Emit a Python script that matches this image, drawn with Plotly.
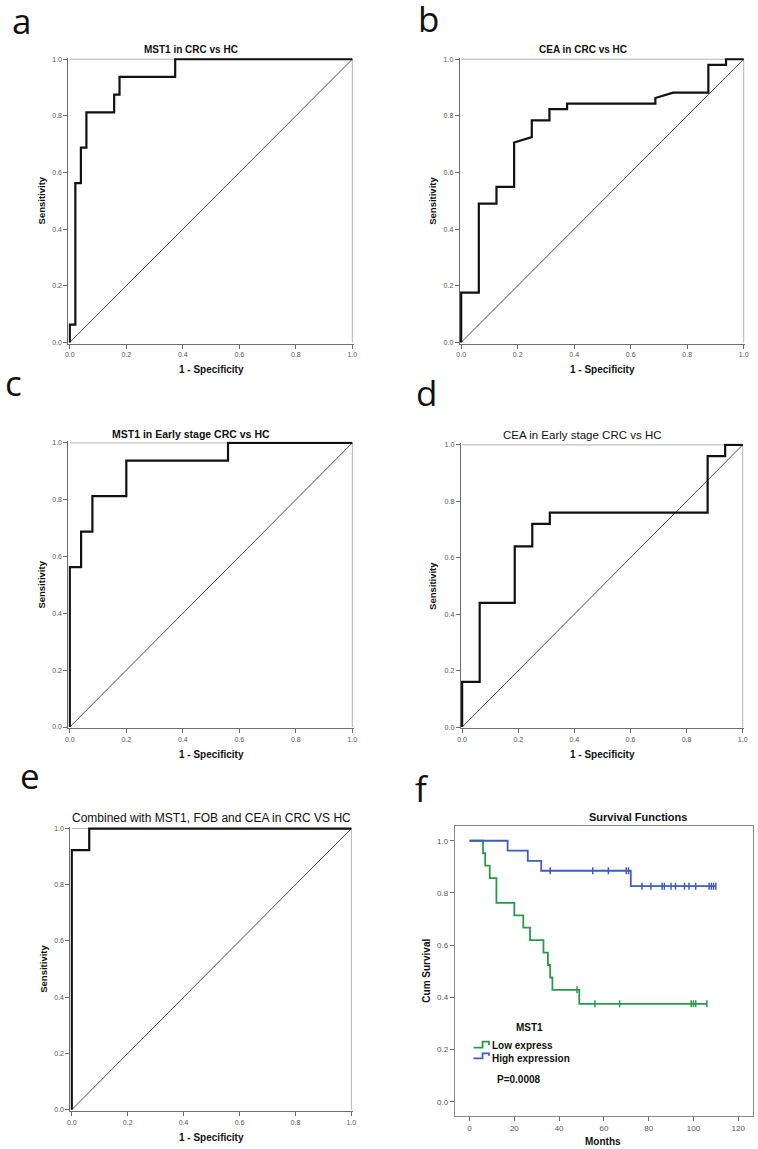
import numpy as np
import plotly.graph_objects as go

W, H = 758, 1149
FONT = "Liberation Sans, Arial, sans-serif"
LETTER_FONT = "Open Sans, Noto Sans, sans-serif"

# ---- ROC data (1 - specificity, sensitivity) ----
a_fpr = [0, 0, 0.0196, 0.0196, 0.0392, 0.0392, 0.0588, 0.0588, 0.157, 0.157, 0.176, 0.176, 0.373, 0.373, 1.0]
a_tpr = [0, 0.0625, 0.0625, 0.5625, 0.5625, 0.6875, 0.6875, 0.8125, 0.8125, 0.875, 0.875, 0.9375, 0.9375, 1.0, 1.0]

b_fpr = [0, 0, 0.0625, 0.0625, 0.125, 0.125, 0.1875, 0.1875, 0.25, 0.25, 0.3125, 0.3125, 0.375, 0.375,
         0.6875, 0.6875, 0.75, 0.875, 0.875, 0.9375, 0.9375, 1.0]
b_tpr = [0, 0.176, 0.176, 0.490, 0.490, 0.549, 0.549, 0.706, 0.725, 0.784, 0.784, 0.824, 0.824, 0.843,
         0.843, 0.863, 0.882, 0.882, 0.980, 0.980, 1.0, 1.0]

c_fpr = [0, 0, 0.04, 0.04, 0.08, 0.08, 0.2, 0.2, 0.56, 0.56, 1.0]
c_tpr = [0, 0.5625, 0.5625, 0.6875, 0.6875, 0.8125, 0.8125, 0.9375, 0.9375, 1.0, 1.0]

d_fpr = [0, 0, 0.0625, 0.0625, 0.1875, 0.1875, 0.25, 0.25, 0.3125, 0.3125, 0.875, 0.875, 0.9375, 0.9375, 1.0]
d_tpr = [0, 0.16, 0.16, 0.44, 0.44, 0.64, 0.64, 0.72, 0.72, 0.76, 0.76, 0.96, 0.96, 1.0, 1.0]

e_fpr = [0, 0, 0.0625, 0.0625, 1.0]
e_tpr = [0, 0.923, 0.923, 1.0, 1.0]

diag = [0, 1]
roc_ticks = [0, 0.2, 0.4, 0.6, 0.8, 1.0]

# ---- Kaplan-Meier data (months, cumulative survival) ----
low_t = [0, 6, 7, 9, 12, 20, 24, 27, 33, 35, 36, 37, 49, 106]
low_s = [1.0, 0.952, 0.905, 0.857, 0.762, 0.714, 0.667, 0.619, 0.571, 0.524, 0.476, 0.429, 0.375, 0.375]
low_cens = [48, 56, 67, 99, 100, 101, 106]

high_t = [0, 17, 26, 32, 72, 110]
high_s = [1.0, 0.962, 0.923, 0.885, 0.826, 0.826]
high_cens = [36, 55, 62, 70, 71, 77, 81, 86, 87, 90, 92, 96, 98, 101, 107, 108, 109, 110]

km_xticks = [0, 20, 40, 60, 80, 100, 120]
km_yticks = [0, 0.2, 0.4, 0.6, 0.8, 1.0]

GREEN = "#2b9a48"
BLUE = "#3f5dbd"


def fx(x):
    return x / W


def fy(y):
    return 1 - y / H


def step_value(times, surv, t):
    idx = np.searchsorted(np.array(times), t, side="right") - 1
    return float(np.array(surv)[idx])


# letter, title, fpr, tpr, box px (x0, y0, x1, y1), title (x, y, size, bold), ylabel x, xlabel y, letter (x, baseline)
ROC_PANELS = [
    ("a", "MST1 in CRC vs HC", a_fpr, a_tpr, (66, 56, 354, 343), (190, 48, 10, True), 39, 369, (7, 32)),
    ("b", "CEA in CRC vs HC", b_fpr, b_tpr, (461, 56, 749, 343), (585, 48, 10, True), 434, 369, (417, 30)),
    ("c", "MST1 in Early stage CRC vs HC", c_fpr, c_tpr, (66, 441, 354, 729), (190, 434, 10.5, True), 39, 755, (0, 395)),
    ("d", "CEA in Early stage CRC vs HC", d_fpr, d_tpr, (462, 443, 748, 729), (585, 435, 11.5, False), 434, 755, (415, 405)),
    ("e", "Combined with MST1, FOB and CEA in CRC VS HC", e_fpr, e_tpr, (68, 828, 353, 1113),
     (210, 819, 12, False), 40, 1139, (15, 790)),
]
KM_BOX = (456, 827, 757, 1118)

fig = go.Figure()
layout = dict(
    width=W, height=H,
    margin=dict(l=0, r=0, t=0, b=0),
    paper_bgcolor="white", plot_bgcolor="white",
    showlegend=False,
    font=dict(family=FONT, color="#222"),
)
annotations = []
shapes = []

tick_font = dict(family=FONT, size=7, color="#555")
axis_common = dict(showgrid=False, zeroline=False, showline=True, linecolor="#6e6e6e", linewidth=1,
                   ticks="outside", ticklen=4, tickcolor="#6e6e6e", tickwidth=1, tickfont=tick_font,
                   fixedrange=True)

for i, (letter, title, fpr, tpr, box, tpos, ylx, xly, lpos) in enumerate(ROC_PANELS, start=1):
    xa, ya = f"x{i}", f"y{i}"
    x0, y0, x1, y1 = box
    layout[f"xaxis{i}"] = dict(axis_common, domain=[fx(x0), fx(x1)], range=[-0.005, 1.005],
                               tickvals=roc_ticks, ticktext=[f"{v:.1f}" for v in roc_ticks], anchor=ya)
    layout[f"yaxis{i}"] = dict(axis_common, domain=[fy(y1), fy(y0)], range=[-0.005, 1.005],
                               tickvals=roc_ticks, ticktext=[f"{v:.1f}" for v in roc_ticks], anchor=xa)
    # light frame on top and right
    shapes.append(dict(type="line", xref=xa, yref=ya, x0=0, x1=1, y0=1, y1=1,
                       line=dict(color="#b5b5b5", width=1), layer="below"))
    shapes.append(dict(type="line", xref=xa, yref=ya, x0=1, x1=1, y0=0, y1=1,
                       line=dict(color="#b5b5b5", width=1), layer="below"))
    fig.add_trace(go.Scatter(x=diag, y=diag, mode="lines", xaxis=xa, yaxis=ya,
                             line=dict(color="#3a3a3a", width=0.9), hoverinfo="skip"))
    fig.add_trace(go.Scatter(x=fpr, y=tpr, mode="lines", xaxis=xa, yaxis=ya,
                             line=dict(color="#111", width=2.2)))
    tx, ty, tsize, tbold = tpos
    annotations.append(dict(text=title, x=fx(tx), y=fy(ty), xref="paper", yref="paper", showarrow=False,
                            xanchor="center", yanchor="middle",
                            font=dict(family=FONT, size=tsize, color="#111",
                                      weight="bold" if tbold else "normal")))
    annotations.append(dict(text="Sensitivity", x=fx(ylx), y=fy((y0 + y1) / 2), xref="paper", yref="paper",
                            showarrow=False, textangle=-90, xanchor="center", yanchor="middle",
                            font=dict(family=FONT, size=9.5, color="#111", weight="bold")))
    annotations.append(dict(text="1 - Specificity", x=fx((x0 + x1) / 2), y=fy(xly), xref="paper", yref="paper",
                            showarrow=False, xanchor="center", yanchor="middle",
                            font=dict(family=FONT, size=10, color="#111", weight="bold")))
    lx, lb = lpos
    annotations.append(dict(text=letter, x=fx(lx), y=fy(lb - 13.6), xref="paper", yref="paper", showarrow=False,
                            xanchor="left", yanchor="middle",
                            font=dict(family=LETTER_FONT, size=35, color="#111")))

# ---- panel f: Kaplan-Meier ----
x0, y0, x1, y1 = KM_BOX
layout["xaxis6"] = dict(axis_common, domain=[fx(x0), fx(x1)], range=[-6.6, 126.6], tickvals=km_xticks,
                        anchor="y6", mirror=True, linecolor="#8a8a8a", tickfont=dict(family=FONT, size=8, color="#555"))
layout["yaxis6"] = dict(axis_common, domain=[fy(y1), fy(y0)], range=[-0.055, 1.056], tickvals=km_yticks,
                        ticktext=[f"{v:.1f}" for v in km_yticks], anchor="x6", mirror=True, linecolor="#8a8a8a",
                        tickfont=dict(family=FONT, size=8, color="#555"))

for t, s, cens, color, name in [(low_t, low_s, low_cens, GREEN, "Low express"),
                                (high_t, high_s, high_cens, BLUE, "High expression")]:
    fig.add_trace(go.Scatter(x=t, y=s, mode="lines", line=dict(color=color, width=1.8, shape="hv"),
                             xaxis="x6", yaxis="y6", name=name))
    fig.add_trace(go.Scatter(x=cens, y=[step_value(t, s, c) for c in cens], mode="markers",
                             marker=dict(symbol="line-ns", size=5, line=dict(color=color, width=1.5)),
                             xaxis="x6", yaxis="y6", hoverinfo="skip"))

km_texts = [
    dict(text="Survival Functions", x=fx(641), y=fy(818), font=dict(family=FONT, size=11, color="#111", weight="bold")),
    dict(text="Cum Survival", x=fx(428), y=fy(972), textangle=-90,
         font=dict(family=FONT, size=10, color="#111", weight="bold")),
    dict(text="Months", x=fx(606), y=fy(1143), font=dict(family=FONT, size=10, color="#111", weight="bold")),
    dict(text="MST1", x=fx(531), y=fy(1029), font=dict(family=FONT, size=10, color="#111", weight="bold")),
    dict(text="Low express", x=fx(492), y=fy(1047.5), xanchor="left",
         font=dict(family=FONT, size=10, color="#111", weight="bold")),
    dict(text="High expression", x=fx(492), y=fy(1060.5), xanchor="left",
         font=dict(family=FONT, size=10, color="#111", weight="bold")),
    dict(text="P=0.0008", x=fx(497), y=fy(1081), xanchor="left",
         font=dict(family=FONT, size=10, color="#111", weight="bold")),
    dict(text="f", x=fx(414), y=fy(803 - 13.6), xanchor="left",
         font=dict(family=LETTER_FONT, size=35, color="#111")),
]
for ann in km_texts:
    ann.setdefault("xref", "paper")
    ann.setdefault("yref", "paper")
    ann.setdefault("showarrow", False)
    ann.setdefault("xanchor", "center")
    ann.setdefault("yanchor", "middle")
annotations += km_texts

# legend step icons
for color, ylow, yhigh in [(GREEN, 1049.3, 1043.3), (BLUE, 1060.0, 1055.0)]:
    path = (f"M {fx(475)},{fy(ylow)} L {fx(484)},{fy(ylow)} L {fx(484)},{fy(yhigh)} "
            f"L {fx(490.5)},{fy(yhigh)} L {fx(490.5)},{fy(ylow - 2.5)}")
    shapes.append(dict(type="path", xref="paper", yref="paper", path=path, line=dict(color=color, width=1.8)))

layout["annotations"] = annotations
layout["shapes"] = shapes
fig.update_layout(**layout)
# the page body has a default 8px margin; drop it so the figure sits at the window origin
fig.write_html("out.html", config={"displayModeBar": False},
               post_script="document.body.style.margin='0';")
